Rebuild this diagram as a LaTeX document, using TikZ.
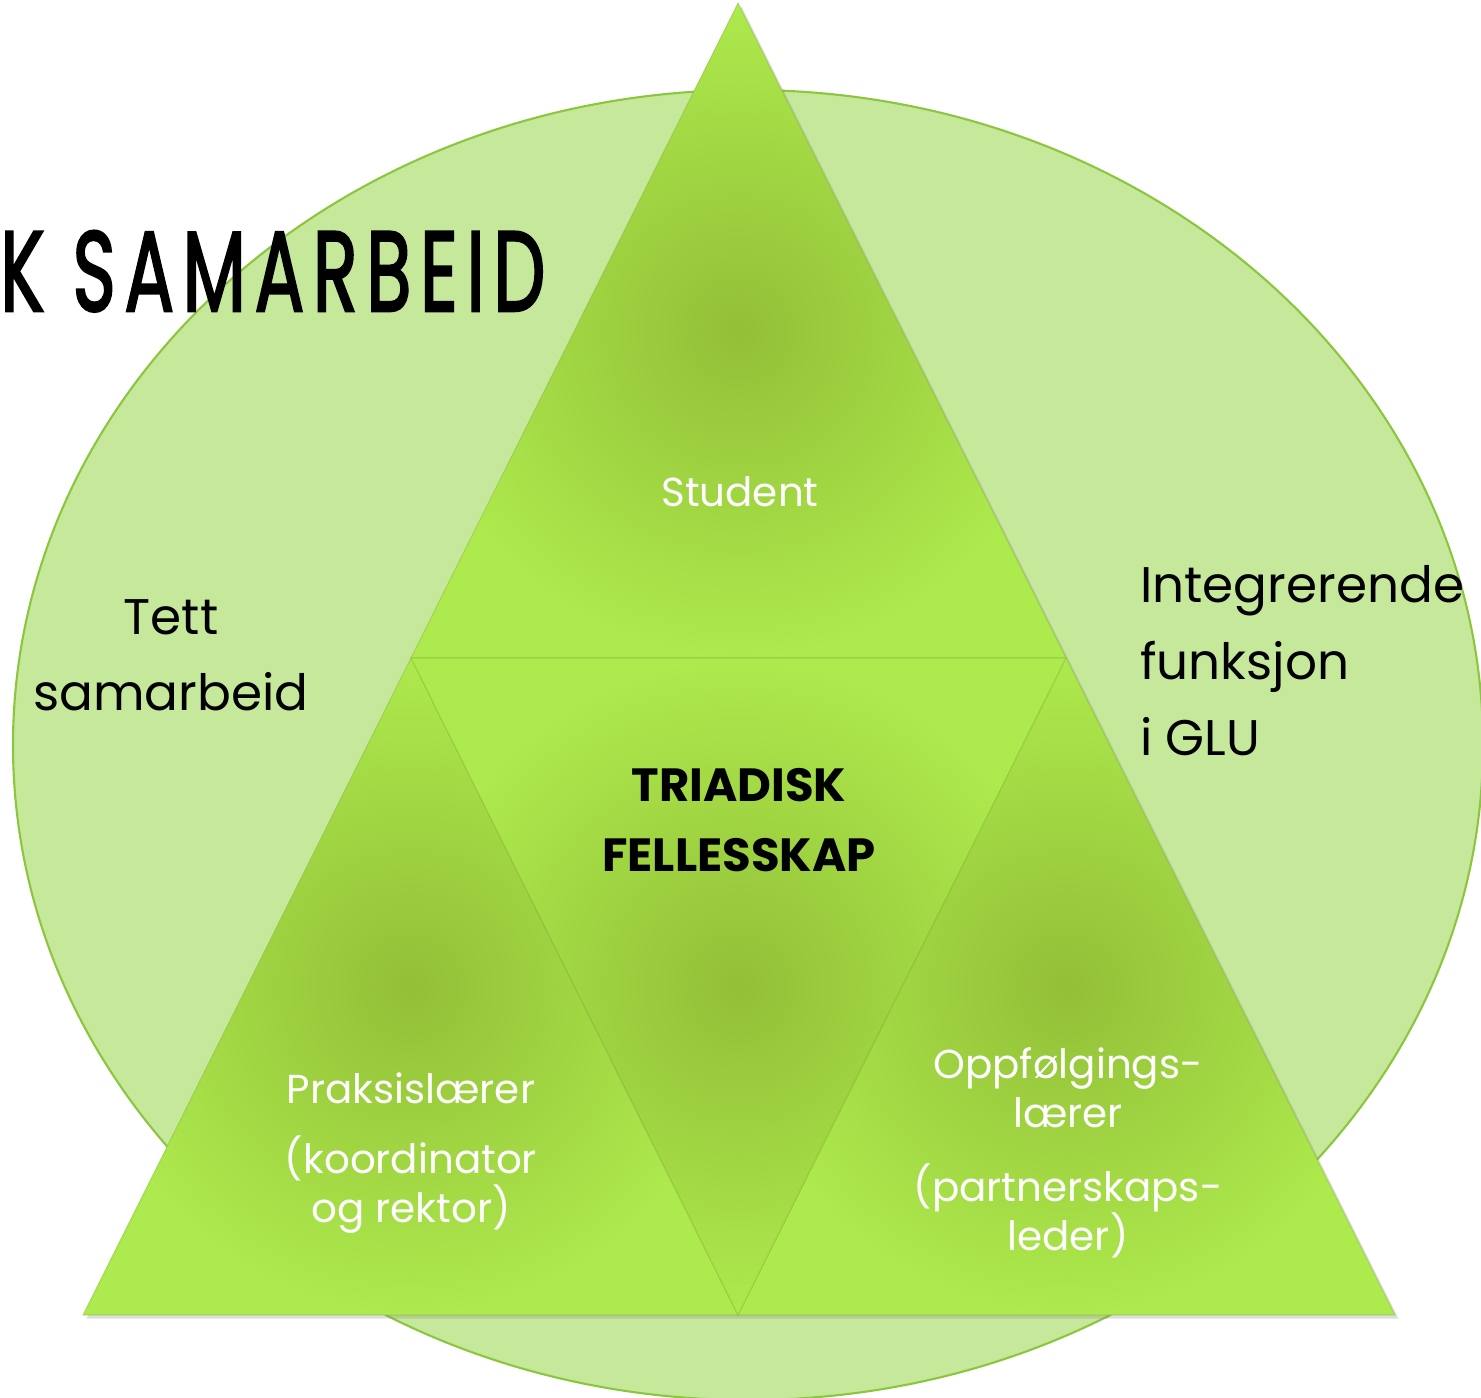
\documentclass[tikz,border=0pt]{standalone}
\usepackage{fontspec}
\setmainfont{Poppins}
\newfontfamily\titlefont{Poppins}[LetterSpace=12, FakeBold=2.5]
\usetikzlibrary{shadows}

\definecolor{ringfill}{HTML}{C5E89B}
\definecolor{ringline}{HTML}{8CC63E}
\definecolor{tridark}{HTML}{93BF37}
\definecolor{trilight}{HTML}{ADEA4D}

\tikzset{
	piece/.style={inner color=tridark, outer color=trilight},
	whitetext/.style={text=white, align=center, font=\fontsize{23}{28}\selectfont},
	blacktext/.style={text=black, font=\fontsize{28.5}{43.5}\selectfont}
}

\begin{document}
\begin{tikzpicture}[x=0.02cm, y=-0.02cm]
\useasboundingbox (0, 0) rectangle (1481, 1398);
\fill [ringfill] (748, 745) ellipse [x radius=735, y radius=655];
\draw [ringline, line width=1.2pt] (748, 745) ellipse [x radius=735, y radius=655];

% big triangle with shadow
\fill [trilight, drop shadow={shadow xshift=2pt, shadow yshift=-2pt, opacity=0.25}]
	(738, 3) -- (1395, 1315) -- (83, 1315) -- cycle;
\foreach \ax/\ay/\bx/\by/\cx/\cy in {
	738/3/1066/658/411/658,
	411/658/738/1315/83/1315,
	1066/658/1395/1315/738/1315,
	411/658/1066/658/738/1315
	} {
	\shade [piece] (\ax, \ay) -- (\bx, \by) -- (\cx, \cy) -- cycle;
	\draw [tridark!80!black, opacity=0.25, line width=0.6pt] (\ax, \ay) -- (\bx, \by) -- (\cx, \cy) -- cycle;
}

\node [anchor=south west, inner sep=0] (title) at (0, 312)
	{\resizebox{10.9cm}{1.6cm}{\fontsize{60}{60}\titlefont K SAMARBEID}};

\node [blacktext, align=center] (tett) at (171, 655) {Tett\\samarbeid};
\node [blacktext, align=left, anchor=west] (glu) at (1134, 661) {Integrerende\\funksjon\\i GLU};

\node [align=center, font=\bfseries\fontsize{26.5}{40}\selectfont] (triad) at (739, 820) {TRIADISK\\FELLESSKAP};

\node [whitetext] (student) at (740, 492) {Student};
\node [whitetext] (praksis) at (411, 1153) {Praksislærer\\[12pt](koordinator\\og rektor)};
\node [whitetext] (oppf) at (1068, 1153) {Oppfølgings-\\lærer\\[14pt](partnerskaps-\\leder)};
\end{tikzpicture}
\end{document}
